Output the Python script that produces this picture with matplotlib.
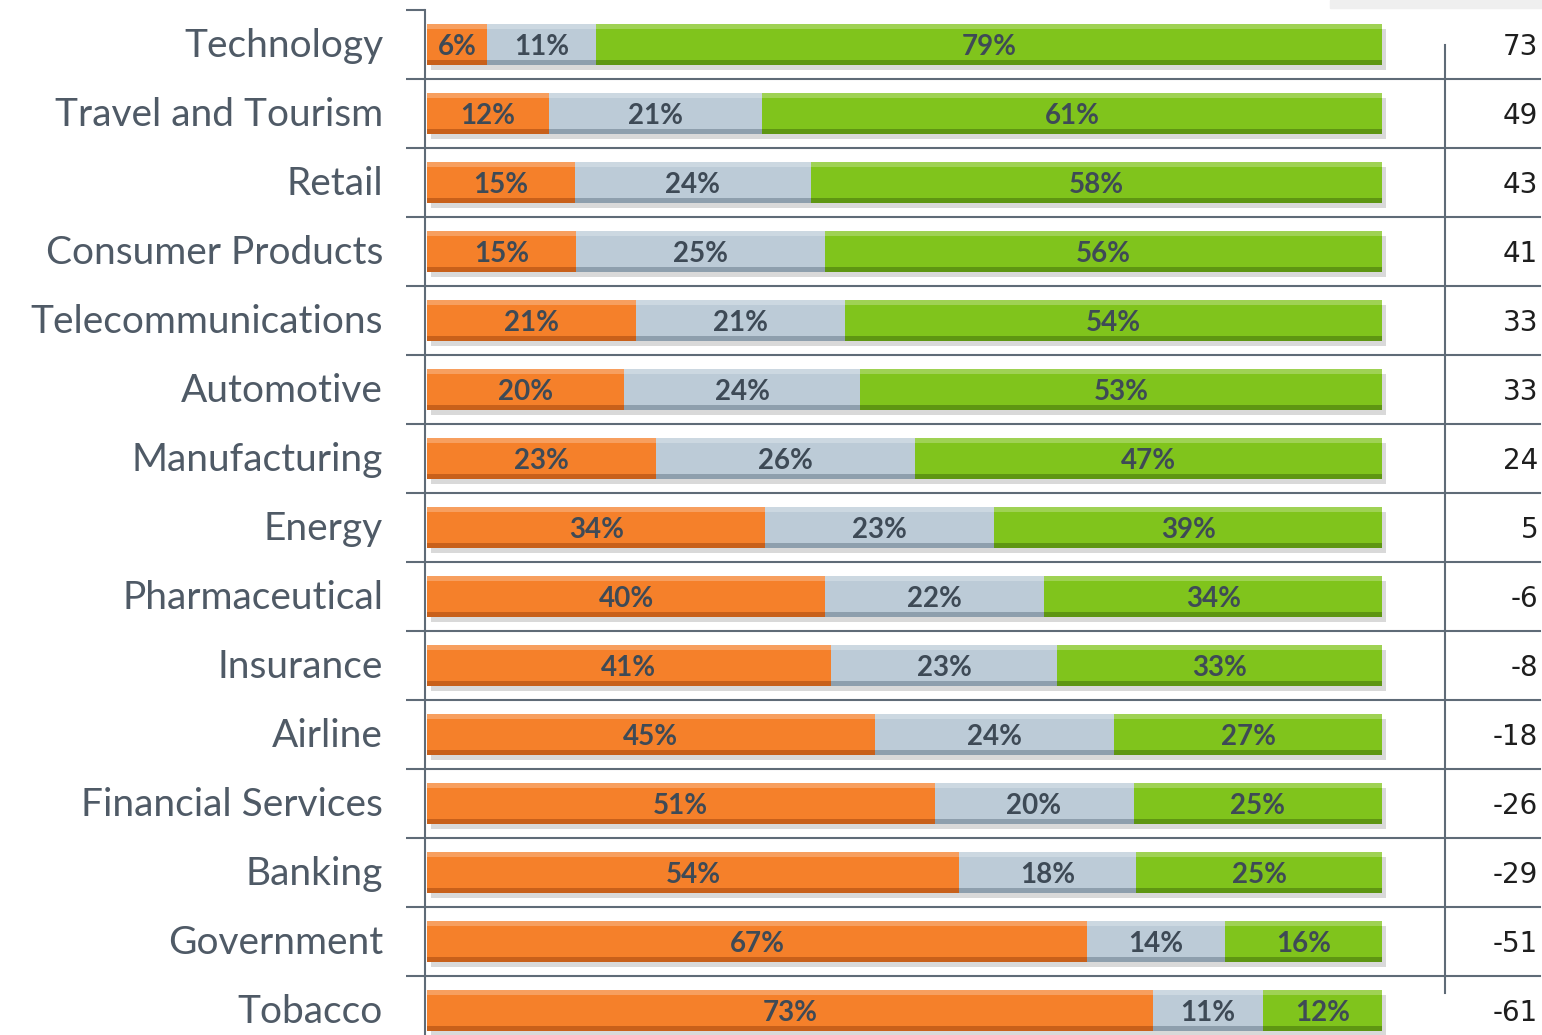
import numpy as np
from matplotlib import pyplot as plt
from matplotlib.patches import Rectangle

categories = ['Technology', 'Travel and Tourism', 'Retail', 'Consumer Products',
              'Telecommunications', 'Automotive', 'Manufacturing', 'Energy',
              'Pharmaceutical', 'Insurance', 'Airline', 'Financial Services',
              'Banking', 'Government', 'Tobacco']
negative = [6, 12, 15, 15, 21, 20, 23, 34, 40, 41, 45, 51, 54, 67, 73]
neutral = [11, 21, 24, 25, 21, 24, 26, 23, 22, 23, 24, 20, 18, 14, 11]
positive = [79, 61, 58, 56, 54, 53, 47, 39, 34, 33, 27, 25, 25, 16, 12]
net_score = [73, 49, 43, 41, 33, 33, 24, 5, -6, -8, -18, -26, -29, -51, -61]

colors = ['#F5802A', '#BCCBD7', '#80C41C']
edge_dark = ['#C8601A', '#8E9FAD', '#5E9612']
label_col = '#3E4A56'
line_col = '#5F6B77'

fig = plt.figure(figsize=(15.42, 10.35), dpi=100)
ax = fig.add_axes([427/1542, -0.0097, 1 - 427/1542 - 2/1542, 1.0])
n = len(categories)
y = np.arange(n)

neg = np.array(negative, float)
neu = np.array(neutral, float)
pos = np.array(positive, float)
tot = neg + neu + pos
segs = [neg/tot*100, neu/tot*100, pos/tot*100]
raw = [negative, neutral, positive]

h = 0.6
# shadows
ax.barh(y + 0.07, 100, height=h, left=0.4, color='#D9D9D9', zorder=1)
left = np.zeros(n)
for k in range(3):
    ax.barh(y, segs[k], height=h, left=left, color=colors[k], zorder=2)
    ax.barh(y + h/2 - 0.04, segs[k], height=0.08, left=left, color=edge_dark[k], zorder=3)
    ax.barh(y - h/2 + 0.04, segs[k], height=0.08, left=left, color='white', alpha=0.25, zorder=3)
    for i in range(n):
        ax.text(left[i] + segs[k][i]/2, y[i] + 0.03, '%d%%' % raw[k][i], ha='center', va='center',
                fontsize=20, fontweight='bold', color=label_col, zorder=4, family='Lato')
    left = left + segs[k]

for i in range(n):
    ax.text(116.3, y[i] + 0.04, str(net_score[i]), ha='right', va='center', fontsize=20,
            color='#1E1E1E', family='DejaVu Sans')

# category labels
for i in range(n):
    ax.text(-4.6, y[i] + 0.02, categories[i], ha='right', va='center', fontsize=28,
            color='#4F5A66', family='Lato')

ax.set_xlim(0, 116.5)
ax.set_ylim(n - 0.5, -0.5)

for b in np.arange(0.5, n - 0.5, 1):
    ax.plot([0, 116.5], [b, b], color=line_col, lw=1.5, zorder=0, clip_on=False)
ax.plot([106.6, 106.6], [0.0, 13.75], color=line_col, lw=1.5, zorder=0)

ax.set_yticks(np.arange(-0.5, n, 1))
ax.set_yticklabels([])
ax.tick_params(axis='y', length=14, width=1.5, color=line_col)
ax.set_xticks([])
for s in ['top', 'right', 'bottom']:
    ax.spines[s].set_visible(False)
ax.spines['left'].set_color(line_col)
ax.spines['left'].set_linewidth(1.5)
ax.spines['left'].set_position(('data', -0.2))

fig.patches.append(Rectangle((1330/1542, 1 - 8/1035), 212/1542, 8/1035,
                             transform=fig.transFigure, color='#EFEFEF', zorder=0))

fig.savefig('out.png', dpi=100)
